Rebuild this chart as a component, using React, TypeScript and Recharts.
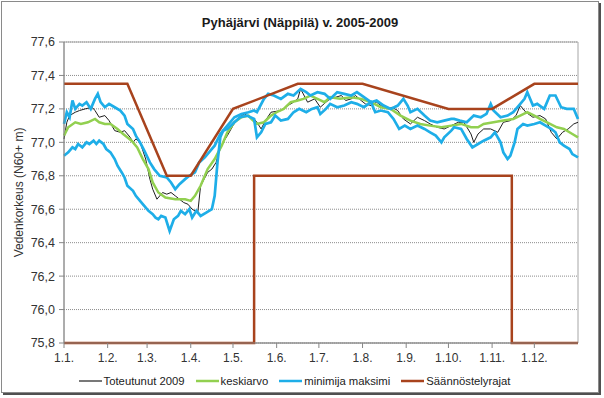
import { LineChart, Line, XAxis, YAxis, CartesianGrid, Legend, ReferenceArea } from "recharts";

// x = day of year (0 = 1.1.)
const monthTicks = [0, 31, 59, 90, 120, 151, 181, 212, 243, 273, 304, 334];
const monthLabels = ["1.1.", "1.2.", "1.3.", "1.4.", "1.5.", "1.6.", "1.7.", "1.8.", "1.9.", "1.10.", "1.11.", "1.12."];
const levelTicks = [75.8, 76.0, 76.2, 76.4, 76.6, 76.8, 77.0, 77.2, 77.4, 77.6];

// Toteutunut 2009
const actualDays = [0, 2, 4, 8, 11, 15, 20, 22, 25, 29, 32, 36, 40, 43, 47, 49, 51, 54, 58, 61, 63, 66, 70, 73, 76, 79, 82, 85, 88, 91, 95, 97, 102, 105, 108, 110, 113, 116, 120, 123, 128, 132, 135, 137, 140, 143, 147, 154, 159, 163, 166, 168, 173, 178, 182, 186, 189, 193, 197, 200, 204, 207, 211, 214, 218, 222, 225, 230, 233, 237, 241, 246, 251, 256, 260, 265, 270, 275, 280, 284, 289, 291, 294, 298, 303, 308, 312, 317, 321, 324, 328, 333, 338, 342, 346, 350, 354, 358, 362, 365];
const actualValues = [77.02, 77.12, 77.16, 77.18, 77.19, 77.2, 77.21, 77.19, 77.15, 77.16, 77.13, 77.07, 77.06, 77.07, 77.03, 77.0, 77.02, 77.0, 76.9, 76.78, 76.72, 76.66, 76.7, 76.69, 76.7, 76.68, 76.66, 76.64, 76.63, 76.6, 76.58, 76.74, 76.82, 76.84, 76.88, 76.94, 77.0, 77.04, 77.1, 77.14, 77.17, 77.15, 77.14, 77.12, 77.08, 77.13, 77.18, 77.19, 77.22, 77.24, 77.26, 77.32, 77.24, 77.26, 77.21, 77.24, 77.26, 77.27, 77.28, 77.25, 77.26, 77.28, 77.25, 77.23, 77.22, 77.24, 77.22, 77.2, 77.21, 77.19, 77.14, 77.11, 77.15, 77.13, 77.11, 77.09, 77.08, 77.1, 77.12, 77.12, 77.05, 77.0, 77.05, 77.08, 77.08, 77.06, 77.12, 77.13, 77.16, 77.22, 77.18, 77.15, 77.16, 77.14, 77.06, 77.02, 77.06, 77.08, 77.11, 77.12];

// keskiarvo
const meanDays = [0, 3, 8, 12, 17, 22, 25, 29, 33, 38, 42, 48, 52, 56, 60, 63, 67, 72, 79, 86, 90, 93, 97, 102, 107, 112, 116, 121, 126, 131, 133, 137, 142, 147, 151, 156, 161, 166, 170, 175, 180, 185, 189, 196, 204, 211, 218, 225, 232, 239, 246, 253, 260, 268, 275, 282, 289, 294, 298, 305, 312, 319, 324, 329, 334, 338, 343, 350, 355, 361, 365];
const meanValues = [77.04, 77.09, 77.12, 77.11, 77.12, 77.14, 77.12, 77.11, 77.11, 77.08, 77.05, 77.01, 76.97, 76.9, 76.84, 76.76, 76.7, 76.67, 76.66, 76.66, 76.65, 76.68, 76.74, 76.84, 76.9, 76.98, 77.06, 77.12, 77.15, 77.16, 77.14, 77.11, 77.12, 77.16, 77.18, 77.2, 77.24, 77.25, 77.26, 77.28, 77.26, 77.24, 77.27, 77.26, 77.27, 77.26, 77.24, 77.21, 77.2, 77.16, 77.13, 77.11, 77.1, 77.09, 77.1, 77.11, 77.09, 77.09, 77.11, 77.12, 77.13, 77.14, 77.16, 77.18, 77.16, 77.14, 77.12, 77.09, 77.08, 77.05, 77.03];

// maksimi
const maxDays = [0, 2, 4, 6, 8, 11, 13, 16, 19, 22, 24, 26, 29, 32, 36, 40, 43, 45, 49, 51, 54, 57, 61, 64, 68, 73, 76, 79, 82, 86, 89, 93, 96, 100, 104, 107, 111, 114, 118, 121, 126, 131, 135, 137, 142, 145, 149, 154, 159, 163, 168, 172, 175, 180, 185, 189, 194, 199, 204, 208, 213, 218, 222, 227, 232, 237, 241, 244, 246, 251, 256, 260, 265, 270, 275, 277, 281, 286, 291, 296, 300, 303, 305, 310, 315, 319, 323, 327, 329, 333, 336, 341, 345, 349, 353, 357, 362, 365];
const maxValues = [77.11, 77.18, 77.15, 77.25, 77.2, 77.23, 77.22, 77.24, 77.2, 77.26, 77.29, 77.24, 77.21, 77.23, 77.21, 77.19, 77.16, 77.11, 77.08, 77.04, 77.0, 76.95, 76.88, 76.84, 76.8, 76.79, 76.76, 76.72, 76.75, 76.78, 76.8, 76.82, 76.88, 76.91, 76.95, 76.98, 77.05, 77.08, 77.12, 77.15, 77.17, 77.18, 77.19, 77.18, 77.26, 77.29, 77.28, 77.26, 77.29, 77.28, 77.32, 77.3, 77.28, 77.3, 77.29, 77.26, 77.3, 77.29, 77.28, 77.3, 77.27, 77.24, 77.25, 77.22, 77.2, 77.22, 77.26, 77.22, 77.18, 77.2, 77.16, 77.13, 77.12, 77.13, 77.14, 77.14, 77.13, 77.12, 77.16, 77.15, 77.17, 77.23, 77.19, 77.15, 77.16, 77.18, 77.22, 77.26, 77.3, 77.22, 77.23, 77.2, 77.28, 77.28, 77.21, 77.2, 77.2, 77.14];

// minimi
const minDays = [0, 3, 6, 8, 10, 13, 16, 18, 21, 23, 25, 28, 30, 33, 36, 38, 41, 43, 45, 49, 51, 54, 57, 60, 63, 65, 67, 69, 72, 75, 78, 81, 83, 86, 89, 91, 94, 97, 101, 105, 107, 109, 111, 113, 116, 121, 125, 130, 135, 137, 140, 143, 147, 150, 154, 159, 163, 167, 172, 176, 180, 182, 186, 189, 194, 199, 204, 208, 213, 218, 221, 225, 230, 234, 238, 242, 246, 251, 256, 260, 264, 268, 270, 275, 277, 282, 286, 290, 294, 298, 303, 306, 310, 312, 315, 317, 320, 322, 326, 329, 334, 338, 342, 346, 349, 352, 355, 359, 361, 365];
const minValues = [76.92, 76.94, 76.97, 76.96, 76.99, 76.97, 77.0, 76.99, 77.01, 76.99, 77.01, 76.99, 76.96, 76.94, 76.9, 76.86, 76.82, 76.79, 76.74, 76.71, 76.68, 76.65, 76.62, 76.59, 76.57, 76.55, 76.54, 76.56, 76.55, 76.47, 76.54, 76.56, 76.59, 76.57, 76.6, 76.55, 76.59, 76.56, 76.58, 76.6, 76.68, 76.88, 77.03, 77.07, 77.08, 77.12, 77.15, 77.16, 77.14, 77.03, 77.06, 77.11, 77.12, 77.16, 77.13, 77.14, 77.18, 77.2, 77.18, 77.2, 77.21, 77.17, 77.2, 77.23, 77.21, 77.22, 77.24, 77.23, 77.21, 77.24, 77.18, 77.19, 77.18, 77.14, 77.08, 77.1, 77.08, 77.1, 77.08, 77.06, 77.04, 77.0, 77.03, 77.07, 77.09, 77.08, 77.02, 76.97, 76.99, 77.01, 77.03, 77.06, 77.0, 76.94, 76.9, 76.92, 77.0, 77.08, 77.11, 77.1, 77.11, 77.12, 77.1, 77.08, 77.06, 77.0, 76.98, 76.96, 76.93, 76.91];

// Säännöstelyrajat
const upperLimitDays = [0, 45, 73, 90, 120, 166, 212, 273, 304, 334, 365];
const upperLimitValues = [77.35, 77.35, 76.8, 76.8, 77.2, 77.35, 77.35, 77.2, 77.2, 77.35, 77.35];
const lowerLimitDays = [0, 135, 135, 318, 318, 365];
const lowerLimitValues = [75.8, 75.8, 76.8, 76.8, 75.8, 75.8];

const BLACK = "#1e1e1e";
const GREEN = "#92d050";
const BLUE = "#1eaee8";
const RED = "#a8431d";

const toPoints = (days: number[], values: number[]) => days.map((d, i) => ({ d, v: values[i] }));

const legendItems = [
  { name: "Toteutunut 2009", color: BLACK, width: 1.2 },
  { name: "keskiarvo", color: GREEN, width: 2.5 },
  { name: "minimija maksimi", color: BLUE, width: 2.5 },
  { name: "Säännöstelyrajat", color: RED, width: 2.5 },
];

function ChartLegend() {
  return (
    <div style={{ display: "flex", justifyContent: "center", alignItems: "center", height: 16, fontSize: 11.3, color: "#222" }}>
      {legendItems.map(it => (
        <div key={it.name} style={{ display: "flex", alignItems: "center", marginRight: 11 }}>
          <svg width={23} height={4}>
            <line x1={0} x2={23} y1={2} y2={2} stroke={it.color} strokeWidth={it.width} />
          </svg>
          <span style={{ marginLeft: 2 }}>{it.name}</span>
        </div>
      ))}
    </div>
  );
}

const fmtLevel = (v: number) => v.toFixed(1).replace(".", ",");
const fmtMonth = (d: number) => monthLabels[monthTicks.indexOf(d)] ?? "";

export default function App() {
  return (
    <div
      style={{
        position: "absolute", left: 1, top: 1, width: 596, height: 390,
        border: "1px solid #8a8a8a", boxShadow: "2px 2px 0 #505050",
        background: "#fff", fontFamily: "'Liberation Sans', Arial, sans-serif",
      }}
    >
      <div style={{ position: "absolute", top: 13, left: 0, width: 596, textAlign: "center", fontWeight: "bold", fontSize: 13, color: "#1a1a1a" }}>
        Pyhäjärvi (Näppilä) v. 2005-2009
      </div>
      <LineChart width={596} height={390} margin={{ top: 40, right: 20, bottom: 3, left: 12 }}>
        <CartesianGrid vertical={false} stroke="#8c8c8c" strokeDasharray="1 1" />
        <ReferenceArea x1={0} x2={365} y1={75.8} y2={77.6} fill="none" stroke="#a6a6a6" />
        <XAxis
          type="number" dataKey="d" domain={[0, 365]} ticks={monthTicks} interval={0}
          tickFormatter={fmtMonth} height={30} tickSize={5} tickMargin={5}
          stroke="#868686" tick={{ fontSize: 12, fill: "#333" }}
        />
        <YAxis
          type="number" domain={[75.8, 77.6]} ticks={levelTicks} interval={0}
          tickFormatter={fmtLevel} width={50} tickSize={5} tickMargin={4}
          stroke="#868686" tick={{ fontSize: 12.5, fill: "#333" }}
          label={{ value: "Vedenkorkeus (N60+ m)", angle: -90, position: "insideLeft", offset: 5, style: { textAnchor: "middle", fontSize: 12, fill: "#333" } }}
        />
        <Legend verticalAlign="bottom" height={16} width={596} wrapperStyle={{ left: 0 }} content={<ChartLegend />} />
        <Line data={toPoints(actualDays, actualValues)} dataKey="v" name="Toteutunut 2009" type="linear" stroke={BLACK} strokeWidth={1} dot={false} isAnimationActive={false} />
        <Line data={toPoints(meanDays, meanValues)} dataKey="v" name="keskiarvo" type="linear" stroke={GREEN} strokeWidth={2.5} dot={false} isAnimationActive={false} />
        <Line data={toPoints(minDays, minValues)} dataKey="v" name="minimija maksimi" type="linear" stroke={BLUE} strokeWidth={2.7} dot={false} isAnimationActive={false} />
        <Line data={toPoints(maxDays, maxValues)} dataKey="v" name="maksimi" type="linear" stroke={BLUE} strokeWidth={2.7} dot={false} isAnimationActive={false} />
        <Line data={toPoints(upperLimitDays, upperLimitValues)} dataKey="v" name="Säännöstelyrajat" type="linear" stroke={RED} strokeWidth={2.5} dot={false} isAnimationActive={false} />
        <Line data={toPoints(lowerLimitDays, lowerLimitValues)} dataKey="v" name="alaraja" type="linear" stroke={RED} strokeWidth={2.5} dot={false} isAnimationActive={false} />
      </LineChart>
    </div>
  );
}
